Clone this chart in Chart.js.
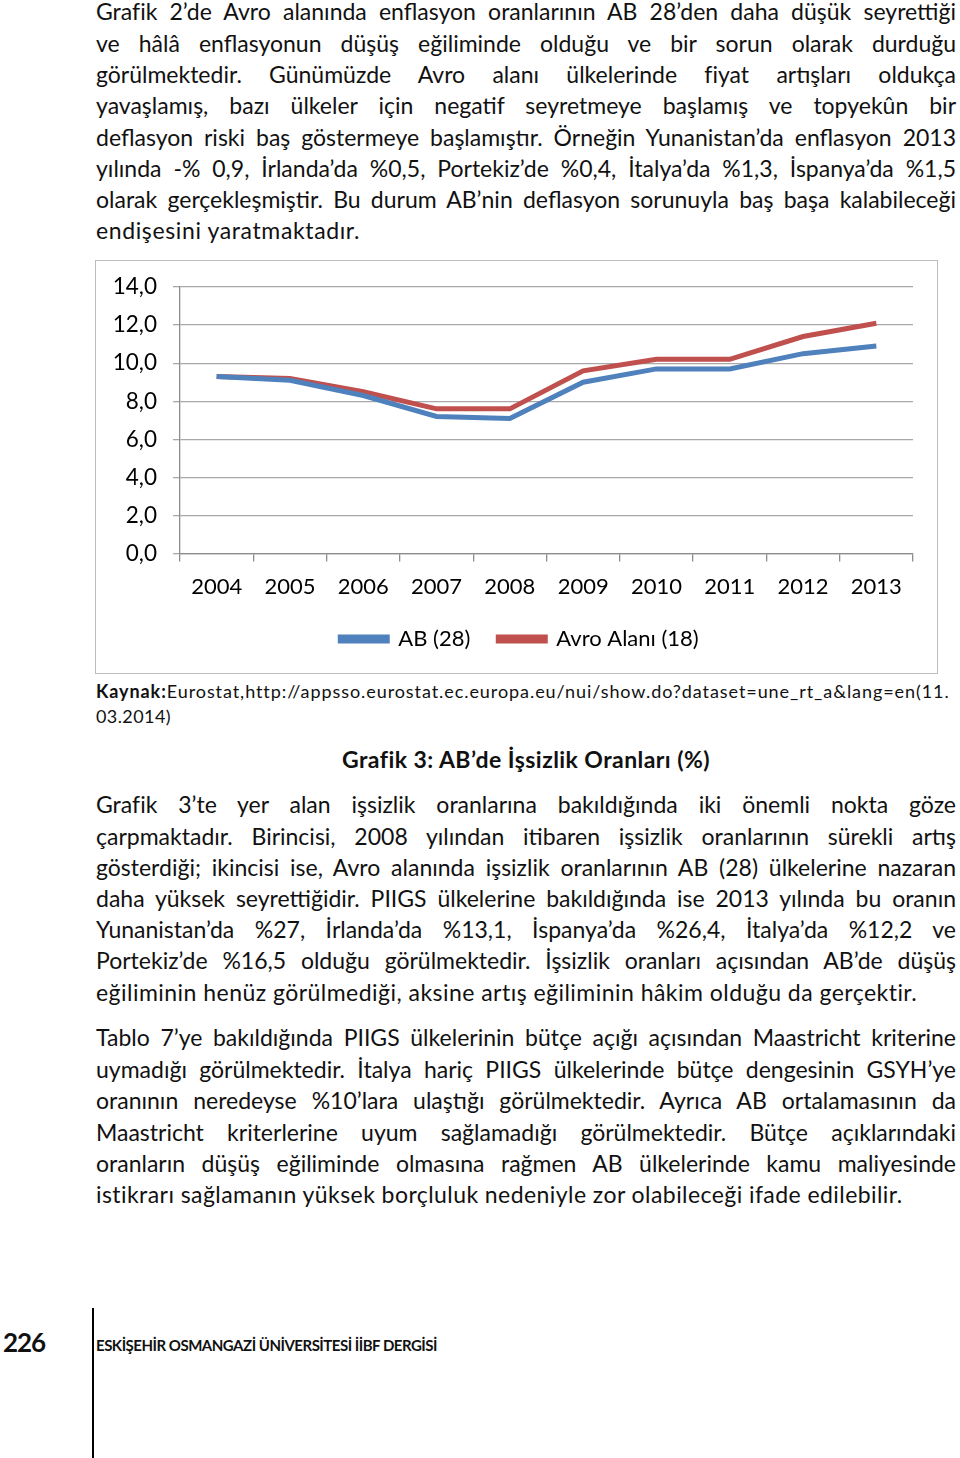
<!DOCTYPE html>
<html lang="tr">
<head>
<meta charset="utf-8">
<script src="https://cdn.jsdelivr.net/npm/chart.js@4.4.1/dist/chart.umd.min.js"></script>
<style>
  html, body { margin: 0; padding: 0; background: #fff; }
  body { width: 960px; height: 1458px; position: relative; overflow: hidden; font-family: Lato, "Open Sans", sans-serif; color: #111; }
  .ln { position: absolute; white-space: nowrap; }
  .ln span { white-space: nowrap; }
  #chartBox { position: absolute; left: 95px; top: 260px; width: 841px; height: 412px; border: 1.5px solid #bdbdbd; }
  #vline { position: absolute; left: 92px; top: 1308px; width: 2px; height: 150px; background: #000; }
</style>
</head>
<body>
<div id="page"></div>
<div id="chartBox"><canvas id="chart"></canvas></div>
<div id="vline"></div>

<script>
// chart data (Grafik 3: AB'de İşsizlik Oranları)
const years = ["2004", "2005", "2006", "2007", "2008", "2009", "2010", "2011", "2012", "2013"];
const ab28 = [9.3, 9.1, 8.3, 7.2, 7.1, 9.0, 9.7, 9.7, 10.5, 10.9];
const avro18 = [9.3, 9.2, 8.5, 7.6, 7.6, 9.6, 10.2, 10.2, 11.4, 12.1];
const yTickLabels = ["0,0", "2,0", "4,0", "6,0", "8,0", "10,0", "12,0", "14,0"];
const seriesNames = ["AB (28)", "Avro Alanı (18)"];

// page text, one entry per printed line
const para1 = [
  "Grafik 2’de Avro alanında enflasyon oranlarının AB 28’den daha düşük seyrettiği",
  "ve hâlâ enflasyonun düşüş eğiliminde olduğu ve bir sorun olarak durduğu",
  "görülmektedir. Günümüzde Avro alanı ülkelerinde fiyat artışları oldukça",
  "yavaşlamış, bazı ülkeler için negatif seyretmeye başlamış ve topyekûn bir",
  "deflasyon riski baş göstermeye başlamıştır. Örneğin Yunanistan’da enflasyon 2013",
  "yılında -% 0,9, İrlanda’da %0,5, Portekiz’de %0,4, İtalya’da %1,3, İspanya’da %1,5",
  "olarak gerçekleşmiştir. Bu durum AB’nin deflasyon sorunuyla baş başa kalabileceği",
  "endişesini yaratmaktadır."
];
const para2 = [
  "Grafik 3’te yer alan işsizlik oranlarına bakıldığında iki önemli nokta göze",
  "çarpmaktadır. Birincisi, 2008 yılından itibaren işsizlik oranlarının sürekli artış",
  "gösterdiği; ikincisi ise, Avro alanında işsizlik oranlarının AB (28) ülkelerine nazaran",
  "daha yüksek seyrettiğidir. PIIGS ülkelerine bakıldığında ise 2013 yılında bu oranın",
  "Yunanistan’da %27, İrlanda’da %13,1, İspanya’da %26,4, İtalya’da %12,2 ve",
  "Portekiz’de %16,5 olduğu görülmektedir. İşsizlik oranları açısından AB’de düşüş",
  "eğiliminin henüz görülmediği, aksine artış eğiliminin hâkim olduğu da gerçektir."
];
const para3 = [
  "Tablo 7’ye bakıldığında PIIGS ülkelerinin bütçe açığı açısından Maastricht kriterine",
  "uymadığı görülmektedir. İtalya hariç PIIGS ülkelerinde bütçe dengesinin GSYH’ye",
  "oranının neredeyse %10’lara ulaştığı görülmektedir. Ayrıca AB ortalamasının da",
  "Maastricht kriterlerine uyum sağlamadığı görülmektedir. Bütçe açıklarındaki",
  "oranların düşüş eğiliminde olmasına rağmen AB ülkelerinde kamu maliyesinde",
  "istikrarı sağlamanın yüksek borçluluk nedeniyle zor olabileceği ifade edilebilir."
];

const page = document.getElementById("page");

// put one line on the page and stretch / squeeze it to the printed width
function addLine(html, x, cy, width, size, opts) {
  opts = opts || {};
  const lh = opts.lh || size * 1.4;
  const div = document.createElement("div");
  div.className = "ln";
  div.style.left = x + "px";
  div.style.top = (cy - lh / 2) + "px";
  div.style.width = width + "px";
  div.style.fontSize = size + "px";
  div.style.lineHeight = lh + "px";
  if (opts.bold) div.style.fontWeight = "bold";
  div.innerHTML = "<span>" + html + "</span>";
  page.appendChild(div);

  const span = div.firstChild;
  const w = span.getBoundingClientRect().width;
  const n = span.textContent.length;
  if (opts.last) {
    div.style.letterSpacing = ((width - w) / n) + "px";
  } else {
    if (w > width) div.style.letterSpacing = ((width - w) / n - 0.05) + "px";
    div.style.textAlign = "justify";
    div.style.textAlignLast = "justify";
  }
}

function addPara(lines, top, pitch, lastWidth) {
  lines.forEach((t, i) => {
    const last = i === lines.length - 1;
    addLine(t, 96, top + i * pitch, last ? lastWidth : 860, 23, { last: last, lh: pitch });
  });
}

addPara(para1, 12, 31.3, 264);
addPara(para2, 805, 31.2, 822);
addPara(para3, 1038, 31.4, 807);

addLine("<b>Kaynak:</b>Eurostat,http://appsso.eurostat.ec.europa.eu/nui/show.do?dataset=une_rt_a&amp;lang=en(11.", 96, 691, 853, 18, { last: true, lh: 25 });
addLine("03.2014)", 96, 716, 75, 18, { last: true, lh: 25 });
addLine("Grafik 3: AB’de İşsizlik Oranları (%)", 342, 759, 368, 23, { last: true, bold: true });
addLine("226", 3, 1342, 42, 26, { last: true, bold: true });
addLine("ESKİŞEHİR OSMANGAZİ ÜNİVERSİTESİ İİBF DERGİSİ", 96, 1345, 341, 15, { last: true, bold: true });

const axisColor = "#8c8c8c";
const gridColor = "#a8a8a8";

// the legend in the original sits a bit right of the canvas centre
const legendShift = {
  id: "legendShift",
  afterLayout(chart) {
    chart.legend.left += 15;
    chart.legend.right += 15;
  },
};

new Chart(document.getElementById("chart"), {
  type: "line",
  data: {
    labels: years,
    datasets: [
      {
        label: seriesNames[0],
        data: ab28,
        borderColor: "#4f81bd",
        backgroundColor: "#4f81bd",
        borderWidth: 5,
        pointRadius: 0,
        tension: 0,
      },
      {
        label: seriesNames[1],
        data: avro18,
        borderColor: "#c0504d",
        backgroundColor: "#c0504d",
        borderWidth: 5,
        pointRadius: 0,
        tension: 0,
      },
    ],
  },
  plugins: [legendShift],
  options: {
    responsive: true,
    maintainAspectRatio: false,
    animation: false,
    layout: { padding: { top: 26, right: 24, left: 0, bottom: 13 } },
    plugins: {
      tooltip: { enabled: false },
      legend: {
        position: "bottom",
        labels: {
          boxWidth: 47,
          boxHeight: 4,
          padding: 28,
          color: "#000",
          font: { family: "Lato", size: 22 },
        },
      },
    },
    scales: {
      x: {
        offset: true,
        grid: { offset: true, drawOnChartArea: false, drawTicks: true, tickLength: 8, color: axisColor, lineWidth: 1.3 },
        border: { color: axisColor, width: 1.3 },
        ticks: { color: "#000", padding: 12, maxRotation: 0, font: { family: "Lato", size: 22 } },
        afterFit: (s) => { s.height = s.height - 12; },
      },
      y: {
        min: 0,
        max: 14,
        ticks: {
          stepSize: 2,
          color: "#000",
          padding: 16,
          font: { family: "Lato", size: 22.5 },
          callback: (v, i) => yTickLabels[i],
        },
        grid: { color: gridColor, lineWidth: 1.3, tickLength: 7 },
        border: { color: axisColor, width: 1.3 },
        afterFit: (s) => { s.width = 84; s.paddingTop = 0; },
      },
    },
  },
});
</script>
</body>
</html>
